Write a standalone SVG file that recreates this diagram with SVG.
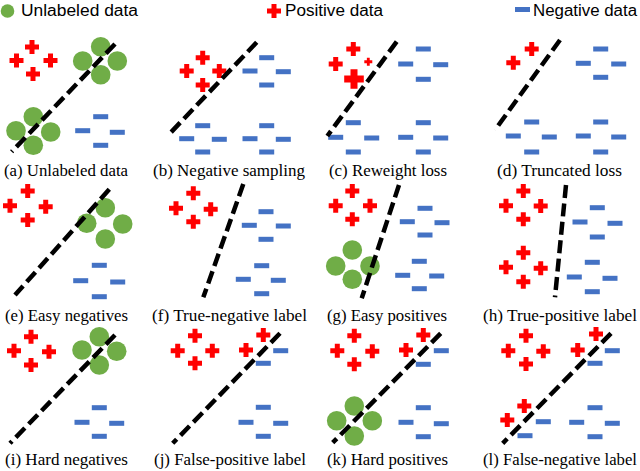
<svg xmlns="http://www.w3.org/2000/svg" xmlns:xlink="http://www.w3.org/1999/xlink" width="640" height="471" viewBox="0 0 640 471">
<style>
.leg{font-family:"Liberation Sans",Arial,sans-serif;font-size:16px;fill:#000}
.lab{font-family:"Liberation Serif","Times New Roman",serif;font-size:16px;fill:#000}
.sep{fill:none;stroke:#000;stroke-width:4.5;stroke-dasharray:13 5.5}
</style>
<defs>
<path id="p" d="M-2.5,-7h5v4.5h4.5v5h-4.5v4.5h-5v-4.5h-4.5v-5h4.5z" fill="#FF0000"/>
<circle id="c" r="9.8" fill="#70AD47"/>
<rect id="m" x="-7.5" y="-2.5" width="15" height="5" fill="#4472C4"/>
</defs>
<rect width="640" height="471" fill="#fff"/>
<g id="legend">
<circle cx="7.5" cy="11" r="6.8" fill="#70AD47"/>
<text class="leg" x="21" y="16" textLength="117" lengthAdjust="spacingAndGlyphs">Unlabeled data</text>
<use href="#p" x="274" y="11"/>
<text class="leg" x="285" y="16" textLength="98" lengthAdjust="spacingAndGlyphs">Positive data</text>
<rect x="515" y="7" width="15" height="5" fill="#4472C4"/>
<text class="leg" x="533" y="16" textLength="104" lengthAdjust="spacingAndGlyphs">Negative data</text>
</g>
<g id="panel-a">
<use href="#p" x="32" y="47"/><use href="#p" x="16.5" y="60.5"/><use href="#p" x="50.5" y="60.5"/><use href="#p" x="33" y="74"/>
<use href="#c" x="100.7" y="46.7"/><use href="#c" x="82.7" y="61"/><use href="#c" x="117.3" y="61"/><use href="#c" x="100.7" y="74.7"/>
<use href="#c" x="33.3" y="116.7"/><use href="#c" x="16" y="130.7"/><use href="#c" x="50.7" y="132"/><use href="#c" x="33.3" y="145.3"/>
<use href="#m" x="100.7" y="116.7"/><use href="#m" x="82.7" y="130.7"/><use href="#m" x="117.3" y="132.3"/><use href="#m" x="100.7" y="145.3"/>
<line class="sep" x1="115" y1="44" x2="11.7" y2="151.7"/>
<text class="lab" x="4" y="176" textLength="124" lengthAdjust="spacingAndGlyphs">(a) Unlabeled data</text>
</g>
<g id="panel-b">
<use href="#p" x="202.7" y="57.7"/><use href="#p" x="186.7" y="71"/><use href="#p" x="219.3" y="71"/><use href="#p" x="202.7" y="85"/>
<use href="#m" x="266.7" y="57.7"/><use href="#m" x="250" y="71"/><use href="#m" x="283.3" y="71.7"/><use href="#m" x="266.7" y="85"/>
<use href="#m" x="202.7" y="125.7"/><use href="#m" x="186.7" y="138.7"/><use href="#m" x="219.3" y="139.3"/><use href="#m" x="202.7" y="152"/>
<use href="#m" x="266.7" y="125.7"/><use href="#m" x="250" y="138.7"/><use href="#m" x="283.3" y="139.3"/><use href="#m" x="266.7" y="152"/>
<line class="sep" x1="256.7" y1="42.3" x2="170" y2="133.3"/>
<text class="lab" x="153" y="176" textLength="152" lengthAdjust="spacingAndGlyphs">(b) Negative sampling</text>
</g>
<g id="panel-c">
<use href="#p" x="353.3" y="49"/><use href="#p" x="335.7" y="64"/>
<use href="#p" transform="translate(368.3,61.7) scale(0.57)"/>
<use href="#p" transform="translate(354,79) scale(1.4)"/>
<use href="#m" x="423.3" y="49"/><use href="#m" x="405.7" y="64"/><use href="#m" x="440.7" y="64.7"/><use href="#m" x="423.3" y="79.3"/>
<use href="#m" x="353.3" y="122.7"/><use href="#m" x="335.7" y="137.3"/><use href="#m" x="371.7" y="138"/><use href="#m" x="353.3" y="152"/>
<use href="#m" x="423.3" y="122.7"/><use href="#m" x="405.7" y="137.3"/><use href="#m" x="440.7" y="138"/><use href="#m" x="423.3" y="152"/>
<line class="sep" x1="396.7" y1="41.7" x2="327.3" y2="136"/>
<text class="lab" x="329" y="176" textLength="118" lengthAdjust="spacingAndGlyphs">(c) Reweight loss</text>
</g>
<g id="panel-d">
<use href="#p" x="531.7" y="49"/><use href="#p" x="513.3" y="62.7"/>
<use href="#m" x="600.7" y="49"/><use href="#m" x="583.3" y="63.3"/><use href="#m" x="618.7" y="64"/><use href="#m" x="600.7" y="77.3"/>
<use href="#m" x="531.7" y="122"/><use href="#m" x="513.3" y="136"/><use href="#m" x="549.3" y="137"/><use href="#m" x="531.7" y="152"/>
<use href="#m" x="600.7" y="122"/><use href="#m" x="583.3" y="136"/><use href="#m" x="618.7" y="137"/><use href="#m" x="600.7" y="152"/>
<line class="sep" x1="560" y1="40" x2="495" y2="130"/>
<text class="lab" x="497" y="176" textLength="125" lengthAdjust="spacingAndGlyphs">(d) Truncated loss</text>
</g>
<g id="panel-e">
<use href="#p" x="27.7" y="191"/><use href="#p" x="10" y="205.7"/><use href="#p" x="45.7" y="206.7"/><use href="#p" x="27.7" y="220"/>
<use href="#c" x="105.3" y="207.7"/><use href="#c" x="86.7" y="223.3"/><use href="#c" x="122.7" y="224"/><use href="#c" x="105.3" y="239"/>
<use href="#m" x="99.3" y="265.3"/><use href="#m" x="80.7" y="280.7"/><use href="#m" x="117.7" y="282"/><use href="#m" x="99.3" y="296.7"/>
<line class="sep" x1="109.3" y1="189.3" x2="15" y2="295"/>
<text class="lab" x="5" y="320.5" textLength="123" lengthAdjust="spacingAndGlyphs">(e) Easy negatives</text>
</g>
<g id="panel-f">
<use href="#p" x="193.3" y="193.3"/><use href="#p" x="176" y="208.3"/><use href="#p" x="210.7" y="209.3"/><use href="#p" x="193.3" y="221.7"/>
<use href="#m" x="266" y="211.7"/><use href="#m" x="249.3" y="225.3"/><use href="#m" x="283.3" y="226"/><use href="#m" x="266" y="239.3"/>
<use href="#m" x="261.7" y="265.7"/><use href="#m" x="243.3" y="279.3"/><use href="#m" x="278.3" y="280.3"/><use href="#m" x="261.7" y="293.7"/>
<line class="sep" x1="243.3" y1="184" x2="203.3" y2="297.3"/>
<text class="lab" x="152" y="320.5" textLength="155" lengthAdjust="spacingAndGlyphs">(f) True-negative label</text>
</g>
<g id="panel-g">
<use href="#p" x="352.3" y="191"/><use href="#p" x="335.7" y="205.7"/><use href="#p" x="370" y="205.7"/><use href="#p" x="352.3" y="219.3"/>
<use href="#c" x="352.3" y="250"/><use href="#c" x="335.7" y="266"/><use href="#c" x="370" y="266"/><use href="#c" x="352.3" y="279.3"/>
<use href="#m" x="425" y="208.3"/><use href="#m" x="407.3" y="221.7"/><use href="#m" x="442" y="222.7"/><use href="#m" x="425" y="235"/>
<use href="#m" x="419.3" y="261.3"/><use href="#m" x="402.7" y="275.3"/><use href="#m" x="436.7" y="276"/><use href="#m" x="419.3" y="288.7"/>
<line class="sep" x1="399" y1="185" x2="361.7" y2="298.3"/>
<text class="lab" x="327" y="320.5" textLength="120" lengthAdjust="spacingAndGlyphs">(g) Easy positives</text>
</g>
<g id="panel-h">
<use href="#p" x="523.3" y="191"/><use href="#p" x="506" y="205.7"/><use href="#p" x="540.7" y="206"/><use href="#p" x="523.3" y="219.3"/>
<use href="#p" x="523.3" y="252.7"/><use href="#p" x="506" y="267.3"/><use href="#p" x="540.7" y="268.3"/><use href="#p" x="523.3" y="281.7"/>
<use href="#m" x="597.3" y="207.7"/><use href="#m" x="580" y="222"/><use href="#m" x="615" y="223.3"/><use href="#m" x="597.3" y="237"/>
<use href="#m" x="592.3" y="262.3"/><use href="#m" x="574.3" y="277"/><use href="#m" x="610" y="278.3"/><use href="#m" x="592.3" y="291.7"/>
<line class="sep" x1="566" y1="185" x2="555" y2="297.3"/>
<text class="lab" x="483" y="320.5" textLength="154" lengthAdjust="spacingAndGlyphs">(h) True-positive label</text>
</g>
<g id="panel-i">
<use href="#p" x="31" y="336.7"/><use href="#p" x="14" y="350.7"/><use href="#p" x="49" y="351.7"/><use href="#p" x="31" y="365"/>
<use href="#c" x="99.3" y="336.7"/><use href="#c" x="82" y="350"/><use href="#c" x="116.7" y="351.3"/><use href="#c" x="99.3" y="365"/>
<use href="#m" x="99.3" y="407.7"/><use href="#m" x="82" y="422.3"/><use href="#m" x="116.7" y="423.3"/><use href="#m" x="99.3" y="436.3"/>
<line class="sep" x1="115" y1="335" x2="10" y2="443.3"/>
<text class="lab" x="5" y="465" textLength="123" lengthAdjust="spacingAndGlyphs">(i) Hard negatives</text>
</g>
<g id="panel-j">
<use href="#p" x="195" y="335.7"/><use href="#p" x="177.7" y="350.7"/><use href="#p" x="212.3" y="350.7"/><use href="#p" x="195" y="363.3"/>
<use href="#p" x="263.3" y="335"/><use href="#p" x="246" y="350"/>
<use href="#m" x="280.7" y="350.7"/><use href="#m" x="263.3" y="363.3"/>
<use href="#m" x="263.3" y="407.3"/><use href="#m" x="246" y="422.3"/><use href="#m" x="280.7" y="423.3"/><use href="#m" x="263.3" y="436.3"/>
<line class="sep" x1="280" y1="333.3" x2="172.7" y2="443.3"/>
<text class="lab" x="154" y="465" textLength="152" lengthAdjust="spacingAndGlyphs">(j) False-positive label</text>
</g>
<g id="panel-k">
<use href="#p" x="354.3" y="335.7"/><use href="#p" x="337.3" y="350.7"/><use href="#p" x="372.3" y="351.3"/><use href="#p" x="354.3" y="364.3"/>
<use href="#p" x="423.3" y="335"/><use href="#p" x="406" y="350"/>
<use href="#m" x="441.3" y="350.7"/><use href="#m" x="423.3" y="364.3"/>
<use href="#m" x="423.3" y="407.7"/><use href="#m" x="406" y="422.3"/><use href="#m" x="441.3" y="423.7"/><use href="#m" x="423.3" y="436.7"/>
<use href="#c" x="354.3" y="406"/><use href="#c" x="336.7" y="420.7"/><use href="#c" x="372.3" y="420.7"/><use href="#c" x="354.3" y="436"/>
<line class="sep" x1="440.7" y1="333.3" x2="332.7" y2="442.7"/>
<text class="lab" x="327" y="465" textLength="121" lengthAdjust="spacingAndGlyphs">(k) Hard positives</text>
</g>
<g id="panel-l">
<use href="#p" x="526" y="335.7"/><use href="#p" x="508.3" y="350.7"/><use href="#p" x="543.3" y="351.3"/><use href="#p" x="526" y="364"/>
<use href="#p" x="596" y="334"/><use href="#p" x="577.7" y="350"/>
<use href="#m" x="612.3" y="350.7"/><use href="#m" x="595" y="363.3"/>
<use href="#p" x="524.3" y="406"/><use href="#p" x="507.3" y="420"/>
<use href="#m" x="543.3" y="421.7"/><use href="#m" x="525" y="435.7"/>
<use href="#m" x="595" y="407.7"/><use href="#m" x="576.7" y="422.3"/><use href="#m" x="612.3" y="423.3"/><use href="#m" x="595" y="436.7"/>
<line class="sep" x1="611" y1="333.3" x2="502.7" y2="443.3"/>
<text class="lab" x="483" y="465" textLength="154" lengthAdjust="spacingAndGlyphs">(l) False-negative label</text>
</g>
</svg>
